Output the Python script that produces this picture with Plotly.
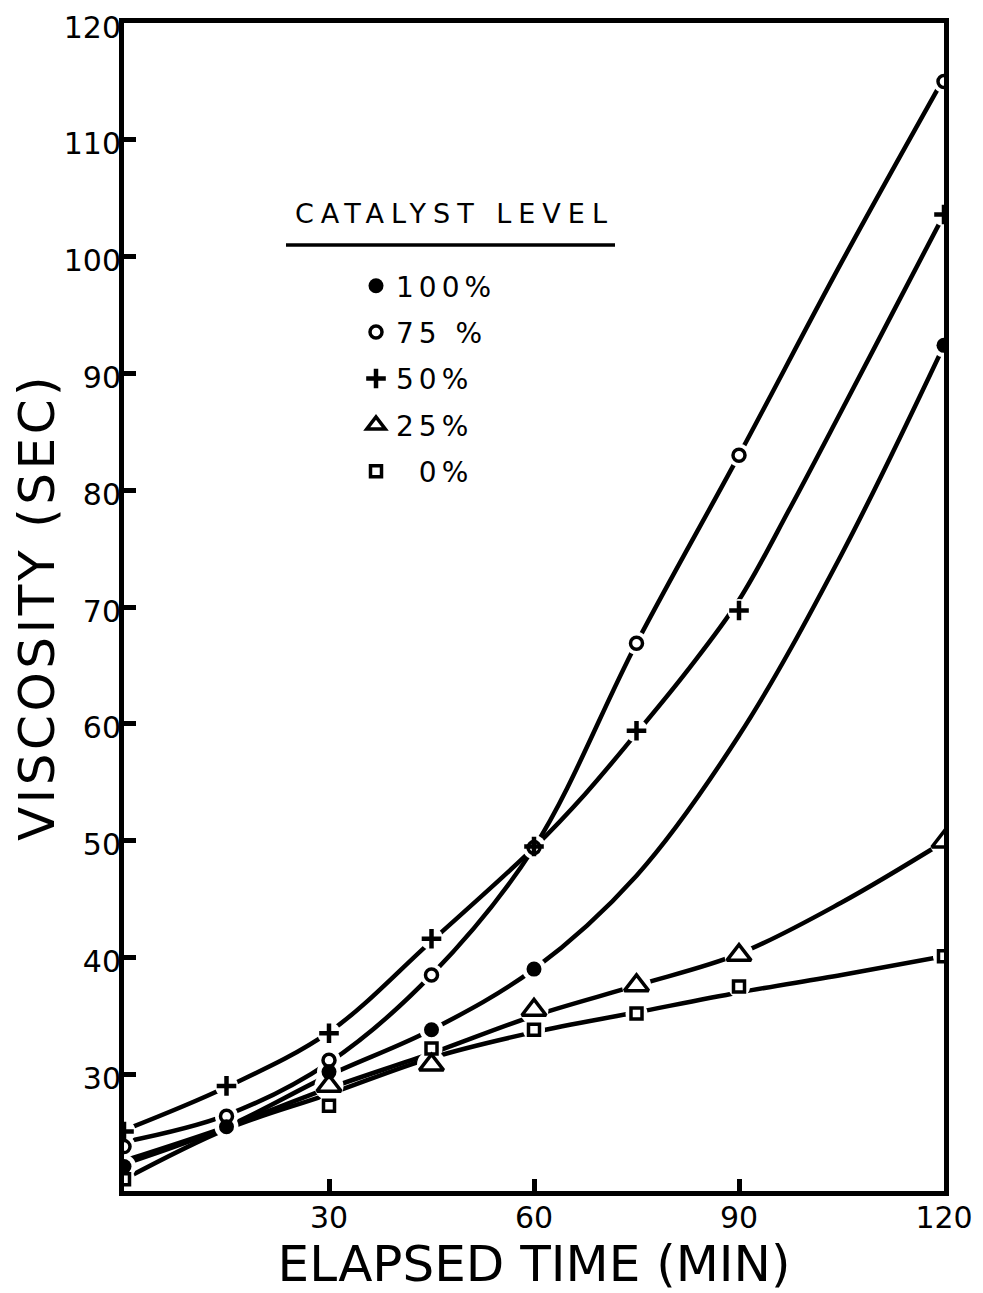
import plotly.graph_objects as go

# ---- data ----
series_names = ["100%", "75 %", "50%", "25%", "\u20070%"]

# measured points (markers)
t100 = [0, 15, 30, 45, 60, 120]
v100 = [22.1, 25.5, 30.2, 33.8, 39.0, 92.4]
t75 = [0, 15, 30, 45, 60, 75, 90, 120]
v75 = [23.8, 26.4, 31.2, 38.5, 49.4, 66.9, 83.0, 115.0]
t50 = [0, 15, 30, 45, 60, 75, 90, 120]
v50 = [25.1, 29.0, 33.5, 41.6, 49.5, 59.4, 69.7, 103.6]
t25 = [30, 45, 60, 75, 90, 120]
v25 = [29.0, 30.8, 35.5, 37.6, 40.2, 49.9]
t0 = [0, 30, 45, 60, 75, 90, 120]
v0 = [21.0, 27.3, 32.2, 33.8, 35.2, 37.5, 40.1]

# hand-drawn smooth curves
curve_t = [0, 15, 30, 45, 60, 75, 90, 105, 120]
curve100 = [22.3, 25.5, 29.9, 33.8, 39.0, 47.0, 59.0, 74.5, 92.4]
curve75 = [24.2, 26.5, 31.0, 38.5, 49.4, 66.9, 83.0, 99.5, 115.3]
curve25 = [22.6, 25.5, 28.8, 31.8, 35.0, 37.6, 40.3, 44.7, 49.9]
curve0 = [21.0, 25.3, 28.3, 31.4, 33.6, 35.3, 37.0, 38.5, 40.1]
# the 50% curve bends around 90 min; read at a finer step
curve50_t = [0, 15, 30, 45, 60, 67.5, 75, 82.5, 90, 97.5, 105, 112.5, 120]
curve50 = [25.2, 28.9, 33.6, 41.4, 49.4, 54.0, 59.2, 64.6, 70.6, 78.5, 86.8, 95.2, 103.6]

x_ticks = [30, 60, 90, 120]
y_ticks = [30, 40, 50, 60, 70, 80, 90, 100, 110, 120]

FONT = "DejaVu Sans"
INK = "black"


def spaced(text, px):
    return '<span style="letter-spacing:%spx">%s</span>' % (px, text)


markers = [
    (t100, v100, dict(symbol="circle", size=15, color=INK, line=dict(width=0))),
    (t75, v75, dict(symbol="circle-open", size=12, color=INK, line=dict(width=3.5, color=INK))),
    (t50, v50, dict(symbol="cross-thin-open", size=14, color=INK, line=dict(width=4.5, color=INK))),
    (t25, v25, dict(symbol="triangle-up-open", size=21, color=INK, line=dict(width=3.5, color=INK))),
    (t0, v0, dict(symbol="square-open", size=11, color=INK, line=dict(width=3.5, color=INK))),
]
halo_sizes = [24, 23, 23, 29, 22]
curves = [(curve_t, curve100), (curve_t, curve75), (curve50_t, curve50),
          (curve_t, curve25), (curve_t, curve0)]

fig = go.Figure()

# lines
for ct, cv in curves:
    fig.add_trace(go.Scatter(
        x=ct, y=cv, mode="lines",
        line=dict(color=INK, width=4.5, shape="spline", smoothing=1.0),
        showlegend=False, hoverinfo="skip"))

# white halos to break lines around markers (like the hand-drawn original)
for (tt, vv, mk), hs in zip(markers, halo_sizes):
    fig.add_trace(go.Scatter(
        x=tt, y=vv, mode="markers",
        marker=dict(symbol="circle", size=hs, color="white", line=dict(width=0)),
        showlegend=False, hoverinfo="skip"))

# markers (also the legend entries)
for i, ((tt, vv, mk), name) in enumerate(zip(markers, series_names)):
    fig.add_trace(go.Scatter(
        x=tt, y=vv, mode="markers", name=spaced(name, 5), marker=mk,
        legendgroup="g%d" % i, showlegend=True))

axis_common = dict(
    showgrid=False, zeroline=False, automargin=False,
    showline=True, linecolor=INK, linewidth=5, mirror=True,
    ticks="inside", ticklen=12, tickwidth=5, tickcolor=INK,
    ticklabeloverflow="allow",
    tickfont=dict(family=FONT, size=30, color=INK),
)

# plot area in figure pixels
L, R, T, B = 116, 39, 15, 102
W, H = 975, 1285
PW, PH = W - L - R, H - T - B


def px_x(p):  # page pixel -> paper x (page has 8px body offset)
    return (p - 8 - L) / PW


def px_y(p):
    return (H - B - (p - 8)) / PH


fig.update_layout(
    template="simple_white",
    width=W, height=H,
    margin=dict(l=L, r=R, t=T, b=B),
    paper_bgcolor="white", plot_bgcolor="white",
    font=dict(family=FONT, color=INK),
    xaxis=dict(range=[0, 120], tickvals=x_ticks, ticktext=[str(v) for v in x_ticks],
               ticklabelstandoff=-4,
               title=dict(text="ELAPSED TIME (MIN)", font=dict(family=FONT, size=50, color=INK), standoff=6),
               **axis_common),
    yaxis=dict(range=[20, 120], tickvals=y_ticks, ticktext=[str(v) for v in y_ticks],
               ticklabelstandoff=-8, ticklabelshift=4,
               title=dict(text=spaced("VISCOSITY (SEC)", 3.5), font=dict(family=FONT, size=50, color=INK), standoff=0),
               **axis_common),
    legend=dict(
        x=px_x(356), y=px_y(261), xanchor="left", yanchor="top",
        bgcolor="rgba(0,0,0,0)", borderwidth=0,
        font=dict(family=FONT, size=28, color=INK),
        tracegroupgap=7, itemwidth=30,
    ),
    annotations=[dict(
        text=spaced("CATALYST LEVEL", 7), xref="paper", yref="paper",
        x=px_x(454), y=px_y(213), xanchor="center", yanchor="middle",
        showarrow=False, font=dict(family=FONT, size=27, color=INK))],
    shapes=[dict(type="line", xref="paper", yref="paper", opacity=1,
                 x0=px_x(286), x1=px_x(615), y0=px_y(245), y1=px_y(245),
                 line=dict(color=INK, width=3.5))],
)

fig.write_html("out.html")
